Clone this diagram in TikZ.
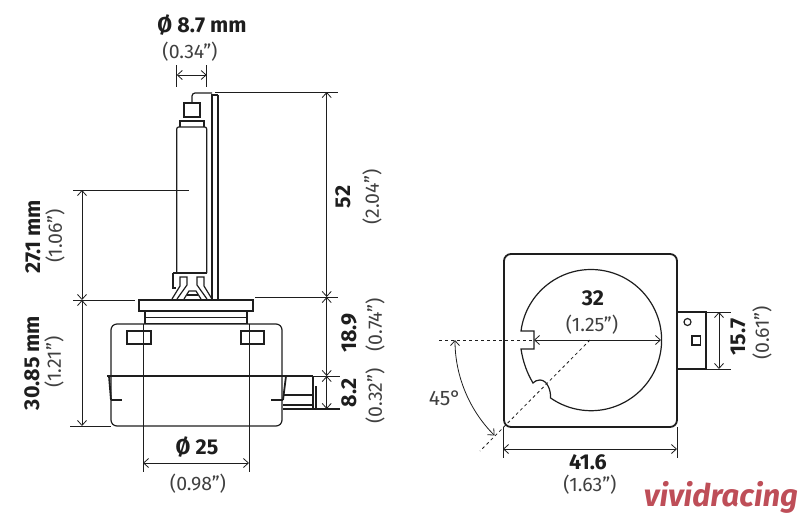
\documentclass[tikz,border=0pt]{standalone}
\usepackage{fontspec}
\setmainfont{Fira Sans}
\usetikzlibrary{arrows.meta}
\definecolor{inkline}{RGB}{30,30,30}
\definecolor{vividred}{RGB}{190,78,88}

\begin{document}
\begin{tikzpicture}[
            x=1pt, y=-1pt,
            part/.style={draw=inkline, line width=1.2pt},
            heavy/.style={draw=inkline, line width=1.8pt},
            thinline/.style={draw=inkline, line width=0.8pt},
            dim/.style={draw=inkline, line width=0.8pt, {Straight Barb[length=5pt,width=9pt]}-{Straight Barb[length=5pt,width=9pt]}},
            hidden/.style={draw=inkline, line width=0.8pt, dashed},
            size/.style={font=\fontsize{21.5}{21.5}\selectfont\bfseries, text=inkline, inner sep=0pt},
            inch/.style={font=\fontsize{19.5}{19.5}\selectfont, text=black!75, inner sep=0pt}
        ]
            \useasboundingbox (0,0) rectangle (800,515);

            % Bulb
            \draw[part] (184,103) rectangle (200,117);
            \draw[part] (180,127) -- (180,121) -- (204,121) -- (204,127);
            \draw[part, rounded corners=2pt] (176.7,273) -- (176.7,127) -- (206.7,127) -- (206.7,273);
            \draw[part, rounded corners=3pt] (192,103) -- (192,93) -- (212,93);
            \draw[part] (212,94) -- (212,299);
            \draw[part] (218,95) -- (212,95) (218,95) -- (218,299);
            \draw[part] (173,273) -- (207,273) (173,273) -- (173,288) -- (176,288);
            \draw[part] (172,299) -- (180,286) -- (180,277) -- (187,277) -- (187,285) -- (177,299);
            \draw[part] (212,299) -- (204,286) -- (204,277) -- (197,277) -- (197,285) -- (207,299);
            \draw[part] (184,299) -- (189,291) -- (196,291) -- (201,299);
            \draw[part] (187,295) -- (198,295);

            % Base
            \draw[part] (139,300) rectangle (253,311);
            \draw[heavy] (145,311.5) -- (247,311.5);
            \draw[part] (145,311) -- (145,324) (247,311) -- (247,324);
            \draw[part] (145,317.5) -- (247,317.5) (145,323.5) -- (247,323.5);
            \draw[part, rounded corners=6pt] (111,324) rectangle (282,426);
            \draw[part] (127,331) rectangle (151,344);
            \draw[part] (241,331) rectangle (264,344);
            \draw[part] (107,376) -- (313,376);
            \draw[heavy] (109,376) -- (111,400);
            \draw[part] (111,400) -- (122,400);
            \draw[heavy] (286,376) -- (283,400);
            \draw[part] (271,400) -- (283,400);
            \draw[part] (284,395) -- (313,395) (283,405) -- (313,405) (283,409) -- (340,409);
            \draw[part] (313,376) -- (313,409);
            \draw[part] (316,386) -- (316,409);

            % Side view dimensions
            \draw[thinline] (176.7,65) -- (176.7,87) (206.7,65) -- (206.7,87);
            \draw[dim] (176.7,75) -- (206.7,75);
            \node[size] (tubesize) at (202,25) {Ø 8.7 mm};
            \node[inch] (tubeinch) at (190,52) {(0.34”)};

            \draw[thinline] (215,92) -- (338,92) (255,297) -- (338,297) (313,376) -- (340,376);
            \draw[dim] (326.7,92) -- (326.7,297);
            \draw[dim] (326.7,297) -- (326.7,376);
            \draw[dim] (326.7,376) -- (326.7,409);
            \node[size, rotate=90] (lengthsize) at (343,197) {52};
            \node[inch, rotate=90] (lengthinch) at (372,197) {(2.04”)};
            \node[size, rotate=90] (uppersize) at (349,333) {18.9};
            \node[inch, rotate=90] (upperinch) at (375,325) {(0.74”)};
            \node[size, rotate=90] (lowersize) at (349,393) {8.2};
            \node[inch, rotate=90] (lowerinch) at (375,396) {(0.32”)};

            \draw[thinline] (73,190) -- (189,190) (73,300) -- (135,300) (70,426) -- (111,426);
            \draw[dim] (82,190) -- (82,300);
            \draw[dim] (82,300) -- (82,426);
            \node[size, rotate=90] (arcsize) at (33,237) {27.1 mm};
            \node[inch, rotate=90] (arcinch) at (55,236) {(1.06”)};
            \node[size, rotate=90] (basesize) at (32,363) {30.85 mm};
            \node[inch, rotate=90] (baseinch) at (54,362) {(1.21”)};

            \draw[thinline] (143,324) -- (143,472) (249,324) -- (249,472);
            \draw[dim] (143,463) -- (249,463);
            \node[size] (necksize) at (197,447) {Ø 25};
            \node[inch] (neckinch) at (198,484) {(0.98”)};

            % Bottom view
            \draw[heavy, rounded corners=7pt] (504,254) rectangle (677,427);
            \draw[part] (521,331) arc[start angle=187.4, end angle=485, radius=70.6]
                .. controls (551,390) and (547,380) .. (540,380)
                .. controls (537,380) and (535,381) .. (533,383)
                .. controls (527,373) and (523,362) .. (521,349)
                -- (534,349) -- (534,331) -- cycle;
            \draw[part] (677,312) -- (706,312) -- (706,369) -- (677,369);
            \draw[part] (687.5,322) circle[radius=3.5];
            \draw[part] (692,336) rectangle (700.5,345);

            % Bottom view dimensions
            \draw[hidden] (439,340) -- (590,340);
            \draw[hidden] (590,340) -- (480,451);
            \draw[dim] (534,340) -- (661,340);
            \draw[dim] (455,340) arc[start angle=180, end angle=135, radius=135];
            \node[inch, font=\fontsize{21}{21}\selectfont] (anglesize) at (445,398) {45°};
            \node[size] (boresize) at (593,298) {32};
            \node[inch] (boreinch) at (592,325) {(1.25”)};

            \draw[thinline] (706,312) -- (731,312) (706,369) -- (731,369);
            \draw[dim] (719,312) -- (719,369);
            \node[size, rotate=90] (tabsize) at (738,337) {15.7};
            \node[inch, rotate=90] (tabinch) at (762,333) {(0.61”)};

            \draw[thinline] (503,427) -- (503,458) (677,427) -- (677,458);
            \draw[dim] (503,449) -- (677,449);
            \node[size] (widthsize) at (588,462) {41.6};
            \node[inch] (widthinch) at (590,485) {(1.63”)};

            % Watermark
            \node[inner sep=0pt, text=vividred, font=\fontsize{31}{31}\selectfont\bfseries\itshape] (mark) at (721,497) {vividracing};
        \end{tikzpicture}
\end{document}
